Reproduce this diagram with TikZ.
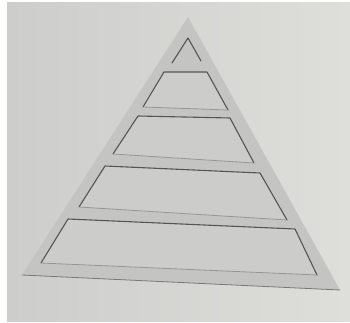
\documentclass[tikz,border=0pt]{standalone}
\begin{document}
\begin{tikzpicture}[x=1pt,y=-1pt,
  edge/.style={draw={rgb,255:red,85;green,85;blue,85},line width=1.1pt,line join=round,line cap=round},
  faint/.style={draw={rgb,255:red,150;green,150;blue,148},line width=0.8pt,line cap=round}]
\definecolor{bgc}{RGB}{222,222,219}
\definecolor{bgd}{RGB}{205,205,203}
\definecolor{trif}{RGB}{196,196,194}
\definecolor{padf}{RGB}{204,204,202}
\useasboundingbox (0,0) rectangle (350,323);
\fill[white] (0,0) rectangle (350,323);
\shade[left color=bgd,right color=bgc] (7,3) rectangle (350,321);
% outer triangle
\coordinate (A) at (188,17);
\coordinate (BL) at (22,275);
\coordinate (BR) at (340,290);
\fill[trif] (A) -- (BL) -- (BR) -- cycle;
\draw[draw={rgb,255:red,120;green,120;blue,118},line width=0.8pt] (BL) -- (BR);
% top small triangle (no base line)
\draw[edge] (172,63) -- (188,38) -- (201,61);
% level 2
\fill[padf] (164,72) -- (207,72) -- (228,110) -- (143,107) -- cycle;
\draw[edge] (143,107) -- (164,72) -- (207,72) -- (228,110);
\draw[faint] (143,107) -- (228,110);
% level 3
\fill[padf] (138,116) -- (230,118) -- (254,163) -- (113,154) -- cycle;
\draw[edge] (113,154) -- (138,116) -- (230,118) -- (254,163);
\draw[faint] (113,154) -- (254,163);
% level 4
\fill[padf] (105,166) -- (260,173) -- (287,220) -- (79,207) -- cycle;
\draw[edge] (79,207) -- (105,166) -- (260,173) -- (287,220);
\draw[faint] (79,207) -- (287,220);
% level 5
\fill[padf] (68,219) -- (295,229) -- (317,275) -- (41,263) -- cycle;
\draw[edge] (41,263) -- (68,219) -- (295,229) -- (317,275);
\draw[faint] (41,263) -- (317,275);
\end{tikzpicture}
\end{document}
